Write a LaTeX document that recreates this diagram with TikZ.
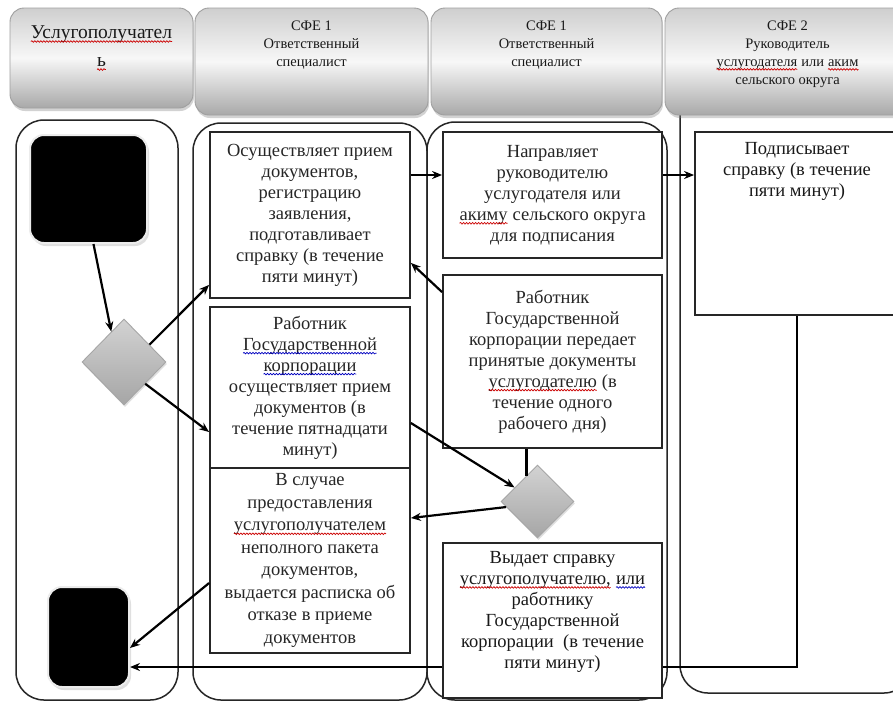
\documentclass[tikz,border=0pt]{standalone}
\usepackage{fontspec}
\setmainfont{Liberation Serif}
\usetikzlibrary{arrows.meta,shapes.geometric,shadows,calc,decorations.pathmorphing}
\pgfdeclarelayer{lanes}
\pgfsetlayers{lanes,main}

\newcommand{\bodyfs}{\fontsize{18.5}{21}\selectfont}
\newcommand{\loosefs}{\fontsize{18.5}{22.5}\selectfont}
\newcommand{\hdrfs}{\fontsize{14.5}{18}\selectfont}
\newcommand{\bighdrfs}{\fontsize{19.5}{22}\selectfont}
% spell-check style wavy underlines
\newcommand{\wavyword}[2]{\tikz[baseline=(ww.base),x=1pt,y=1pt]{%
  \node[shape=rectangle, inner sep=0pt, outer sep=0pt, minimum width=0pt,
    minimum height=0pt, draw=none, fill=none, anchor=base, text width=,
    align=left] (ww) at (0,0) {#2};
  \draw[draw=#1, line width=0.7pt, decorate,
    decoration={snake, amplitude=0.8pt, segment length=3pt}]
    ([yshift=-3pt]ww.base west) -- ([yshift=-3pt]ww.base east);}}
\newcommand{\redsq}[1]{\wavyword{red!80!black}{#1}}
\newcommand{\bluesq}[1]{\wavyword{blue!75!black}{#1}}

\begin{document}
\begin{tikzpicture}[x=1pt,y=-1pt,
  lane/.style={draw=black!85, line width=1.5pt, rounded corners=28pt, fill=white},
  hdr/.style={draw=gray!75, line width=0.9pt, rounded corners=14pt,
    top color=gray!38, bottom color=gray!68, middle color=gray!6,
    drop shadow={shadow xshift=1pt, shadow yshift=-3pt, opacity=0.35}},
  htxt/.style={font=\hdrfs, align=center, inner sep=0pt, text=black!90},
  procbox/.style={draw=black!85, line width=1.8pt, fill=white, inner sep=0pt,
    align=center, font=\bodyfs, text=black!85},
  term/.style={fill=black, draw=gray!15, line width=2pt, rounded corners=14pt,
    drop shadow={shadow xshift=2pt, shadow yshift=-3pt, opacity=0.25}},
  dia/.style={diamond, draw=gray!70, line width=0.9pt, inner sep=0pt,
    top color=gray!35, bottom color=gray!70,
    drop shadow={shadow xshift=1pt, shadow yshift=-2pt, opacity=0.25}},
  arr/.style={line width=2.2pt, -{Stealth[length=10pt, width=8pt]}},
  plain/.style={line width=2.2pt}
]
\useasboundingbox (0,0) rectangle (893,702);

% swimlanes
\begin{pgfonlayer}{lanes}
  \fill[white] (0,0) rectangle (893,702);
  \draw[lane] (16,120) rectangle (178,700);
  \draw[lane] (193,123) rectangle (427,700);
  \draw[lane] (427,122) rectangle (667,700);
  \draw[lane] (680,40) rectangle (912,693);
\end{pgfonlayer}

% lane headers
\node[hdr, minimum width=183, minimum height=100] (h1) at (101.5,58) {};
\node[hdr, minimum width=233, minimum height=107] (h2) at (311.5,61.5) {};
\node[hdr, minimum width=231, minimum height=107] (h3) at (546.5,61.5) {};
\node[hdr, minimum width=245, minimum height=107] (h4) at (787.5,61.5) {};
\node[htxt, font=\bighdrfs, anchor=north] (h1t) at ([yshift=-18]h1.north) {\redsq{Услугополучател}\\[6pt]\redsq{ь}};
\node[htxt, anchor=north] (h2t) at ([yshift=-13]h2.north) {СФЕ 1\\Ответственный\\специалист};
\node[htxt, anchor=north] (h3t) at ([yshift=-13]h3.north) {СФЕ 1\\Ответственный\\специалист};
\node[htxt, anchor=north] (h4t) at ([yshift=-13]h4.north) {СФЕ 2\\Руководитель\\\redsq{услугодателя} или \redsq{аким}\\сельского округа};

% start and end terminals
\node[term, minimum width=117, minimum height=108] (s1) at (88.5,189) {};
\node[term, minimum width=81, minimum height=100] (s2) at (88.5,637) {};

% decisions
\node[dia, minimum width=84, minimum height=86] (d1) at (124,362) {};
\node[dia, minimum width=73, minimum height=73] (d2) at (537.5,501.5) {};

% process steps
\node[procbox, minimum width=200, minimum height=166] (b1) at (310,215)
  {Осуществляет прием\\документов,\\регистрацию\\заявления,\\подготавливает\\справку (в течение\\пяти минут)};
\node[procbox, minimum width=200, minimum height=161] (b2) at (310,387.5)
  {Работник\\\bluesq{Государственной}\\\bluesq{корпорации}\\осуществляет прием\\документов (в\\течение пятнадцати\\минут)};
\node[procbox, font=\loosefs, minimum width=200, minimum height=185] (b3) at (310,560.5)
  {В случае\\предоставления\\\redsq{услугополучателем}\\неполного пакета\\документов,\\выдается расписка об\\отказе в приеме\\документов};
\node[procbox, minimum width=219, minimum height=126] (b4) at (552.5,195)
  {Направляет\\руководителю\\услугодателя или\\\redsq{акиму} сельского округа\\для подписания};
\node[procbox, minimum width=219, minimum height=173] (b5) at (552.5,361.5)
  {Работник\\Государственной\\корпорации передает\\принятые документы\\\redsq{услугодателю} (в\\течение одного\\рабочего дня)};
\node[procbox, minimum width=219, minimum height=155] (b6) at (552.5,620.5) {};
\node[htxt, font=\bodyfs, anchor=north] (b6t) at ([yshift=-9]b6.north)
  {Выдает справку\\\redsq{услугополучателю,} \bluesq{или}\\работнику\\Государственной\\корпорации\ \ (в течение\\пяти минут)};
\node[procbox, minimum width=204, minimum height=183] (b7) at (797,223.5) {};
\node[htxt, font=\bodyfs, anchor=north] (b7t) at ([yshift=-11]b7.north)
  {Подписывает\\справку (в течение\\пяти минут)};

% return path from signing back to the recipient, passing behind the issue step
\begin{pgfonlayer}{lanes}
  \draw[arr] (b7.south) |- ([yshift=-30]s2.east);
\end{pgfonlayer}

% flow connectors
\draw[arr] ([xshift=5]s1.south) -- ($(d1.north)!0.3!(d1.west)$);
\draw[arr] ($(d1.north)!0.6!(d1.east)$) -- ([yshift=14]b1.south west);
\draw[arr] ($(d1.south)!0.5!(d1.east)$) -- ([yshift=-44.5]b2.west);
\draw[arr] ([yshift=40]b1.east) -- ([yshift=20]b4.west);
\draw[arr] ([yshift=20]b4.east) -- ([yshift=48.5]b7.west);
\draw[arr] ([yshift=-18]b5.north west) -- ([yshift=36]b1.south east);
\draw[arr] ([yshift=-35.5]b2.east) -- ($(d2.north)!0.62!(d2.west)$);
\coordinate (d2in) at ($(d2.north)!0.3!(d2.west)$);
\draw[plain] (b5.south -| d2in) -- (d2in);
\draw[arr] ($(d2.west)!0.15!(d2.south)$) -- ([yshift=42.5]b3.east);
\draw[arr] ([yshift=-22.5]b3.west) -- ([yshift=-11]s2.east);
\end{tikzpicture}
\end{document}
